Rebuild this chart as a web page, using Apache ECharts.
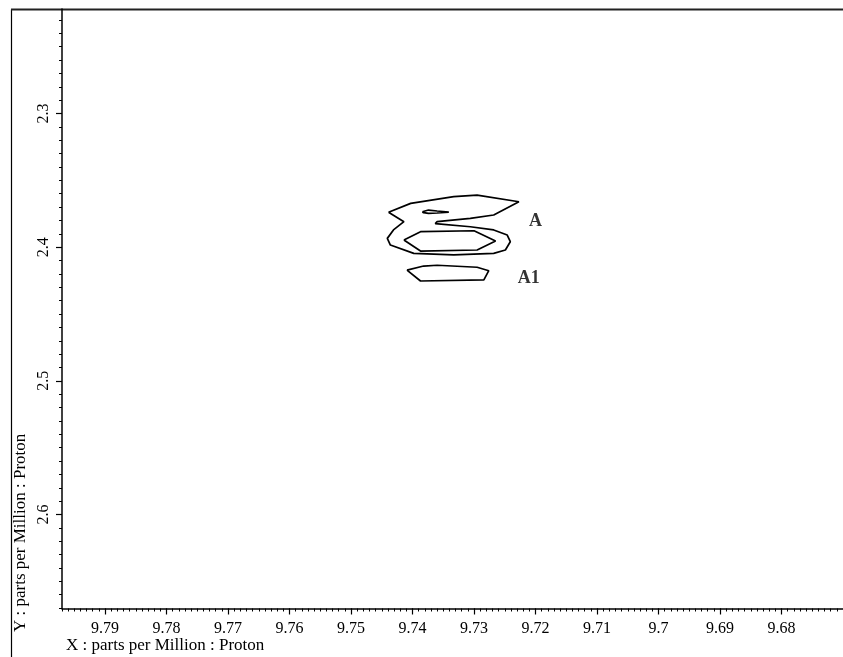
<!DOCTYPE html>
<html>
<head>
<meta charset="utf-8">
<script src="https://cdn.jsdelivr.net/npm/echarts@6/dist/echarts.min.js"></script>
<style>
html,body{margin:0;padding:0;background:#fff;}
#chart{width:843px;height:657px;}
</style>
</head>
<body>
<div id="chart"></div>
<script>
// Axis ranges (ppm)
var xMin = 9.67, xMax = 9.797;
var yMin = 2.2218, yMax = 2.6703;
// Tick labels
var xTickLabels = [9.79, 9.78, 9.77, 9.76, 9.75, 9.74, 9.73, 9.72, 9.71, 9.70, 9.69, 9.68];
var yTickLabels = [2.3, 2.4, 2.5, 2.6];
var xTitle = 'X : parts per Million : Proton';
var yTitle = 'Y : parts per Million : Proton';

// Contour polygons [x ppm, y ppm]
var contourOuter = [
  [9.7439,2.3739],[9.7403,2.3672],[9.7333,2.3622],[9.7295,2.3610],[9.7227,2.3660],
  [9.7268,2.3759],[9.7306,2.3784],[9.7360,2.3809],[9.7363,2.3824],[9.7306,2.3847],
  [9.7268,2.3871],[9.7246,2.3909],[9.7241,2.3959],[9.7249,2.4021],[9.7268,2.4046],
  [9.7333,2.4058],[9.7398,2.4046],[9.7436,2.3984],[9.7441,2.3934],[9.7431,2.3871],
  [9.7414,2.3809],[9.7439,2.3739]
];
var contourSmall = [
  [9.7384,2.3735],[9.7374,2.3722],[9.7360,2.3729],[9.7341,2.3737],[9.7360,2.3744],
  [9.7374,2.3747],[9.7382,2.3742],[9.7384,2.3735]
];
var contourMiddle = [
  [9.7414,2.3946],[9.7387,2.3884],[9.7300,2.3877],[9.7265,2.3954],[9.7295,2.4021],
  [9.7387,2.4029],[9.7414,2.3946]
];
var contourA1 = [
  [9.7409,2.4171],[9.7382,2.4141],[9.7360,2.4135],[9.7295,2.4150],[9.7276,2.4176],
  [9.7284,2.4245],[9.7387,2.4253],[9.7409,2.4171]
];
// Peak labels
var peakNames = ['A', 'A1'];
var peakPos = [[9.7200, 2.3804], [9.7211, 2.4231]];

var xMinor = [];
for (var i = 9671; i <= 9797; i++) xMinor.push(i / 1000);
var yMinor = [];
for (var j = 223; j <= 267; j++) yMinor.push(j / 100);

var serif = '"Liberation Serif","DejaVu Serif",serif';
var chart = echarts.init(document.getElementById('chart'));

function contourSeries(d) {
  return {
    type: 'line', data: d, xAxisIndex: 0, yAxisIndex: 0,
    symbol: 'none', silent: true, animation: false,
    lineStyle: {color: '#000', width: 1.7}
  };
}

var series = [contourOuter, contourSmall, contourMiddle, contourA1].map(contourSeries);
series.push({
  type: 'scatter', xAxisIndex: 0, yAxisIndex: 0, symbolSize: 0, animation: false,
  data: peakPos.map(function (p, k) { return {value: p, name: peakNames[k]}; }),
  label: {show: true, position: 'inside', formatter: '{b}', color: '#000',
    fontFamily: serif, fontWeight: 'bold', fontSize: 18}
});

var option = {
  backgroundColor: '#fff',
  animation: false,
  grid: {left: 62, right: 0, top: 9, bottom: 48.5, containLabel: false},
  xAxis: [{
    type: 'value', min: xMin, max: xMax, inverse: true, position: 'bottom',
    axisLine: {show: true, onZero: false, lineStyle: {color: '#000', width: 1.5}},
    axisTick: {show: true, length: 6, customValues: xTickLabels, lineStyle: {color: '#000', width: 1.2}},
    axisLabel: {show: true, customValues: xTickLabels, margin: 12, color: '#000',
      fontFamily: serif, fontSize: 16, formatter: function (v) { return String(+v.toFixed(2)); }},
    splitLine: {show: false}
  }, {
    type: 'value', min: xMin, max: xMax, inverse: true, position: 'bottom', gridIndex: 0,
    axisLine: {show: false, onZero: false},
    axisTick: {show: true, length: 3, customValues: xMinor, lineStyle: {color: '#000', width: 1}},
    axisLabel: {show: false},
    splitLine: {show: false}
  }],
  yAxis: [{
    type: 'value', min: yMin, max: yMax, inverse: true, position: 'left',
    axisLine: {show: true, onZero: false, lineStyle: {color: '#000', width: 1.5}},
    axisTick: {show: true, length: 6, customValues: yTickLabels, lineStyle: {color: '#000', width: 1.2}},
    axisLabel: {show: true, customValues: yTickLabels, margin: 10, rotate: 90, color: '#000',
      fontFamily: serif, fontSize: 16, formatter: function (v) { return String(+v.toFixed(1)); }},
    splitLine: {show: false}
  }, {
    type: 'value', min: yMin, max: yMax, inverse: true, position: 'left', gridIndex: 0,
    axisLine: {show: false, onZero: false},
    axisTick: {show: true, length: 3, customValues: yMinor, lineStyle: {color: '#000', width: 1}},
    axisLabel: {show: false},
    splitLine: {show: false}
  }],
  graphic: [
    {type: 'line', shape: {x1: 11.5, y1: 9.5, x2: 11.5, y2: 657}, style: {stroke: '#000', lineWidth: 1.2}, silent: true},
    {type: 'line', shape: {x1: 11, y1: 9.5, x2: 843, y2: 9.5}, style: {stroke: '#222', lineWidth: 2}, silent: true},
    {type: 'text', left: 66, top: 637, style: {text: xTitle, fill: '#000', font: '17px ' + serif}, silent: true},
    {type: 'text', x: 21, y: 632, rotation: Math.PI / 2,
      style: {text: yTitle, fill: '#000', font: '17px ' + serif, textAlign: 'left', textVerticalAlign: 'middle'}, silent: true}
  ],
  series: series
};
chart.setOption(option);
</script>
</body>
</html>
